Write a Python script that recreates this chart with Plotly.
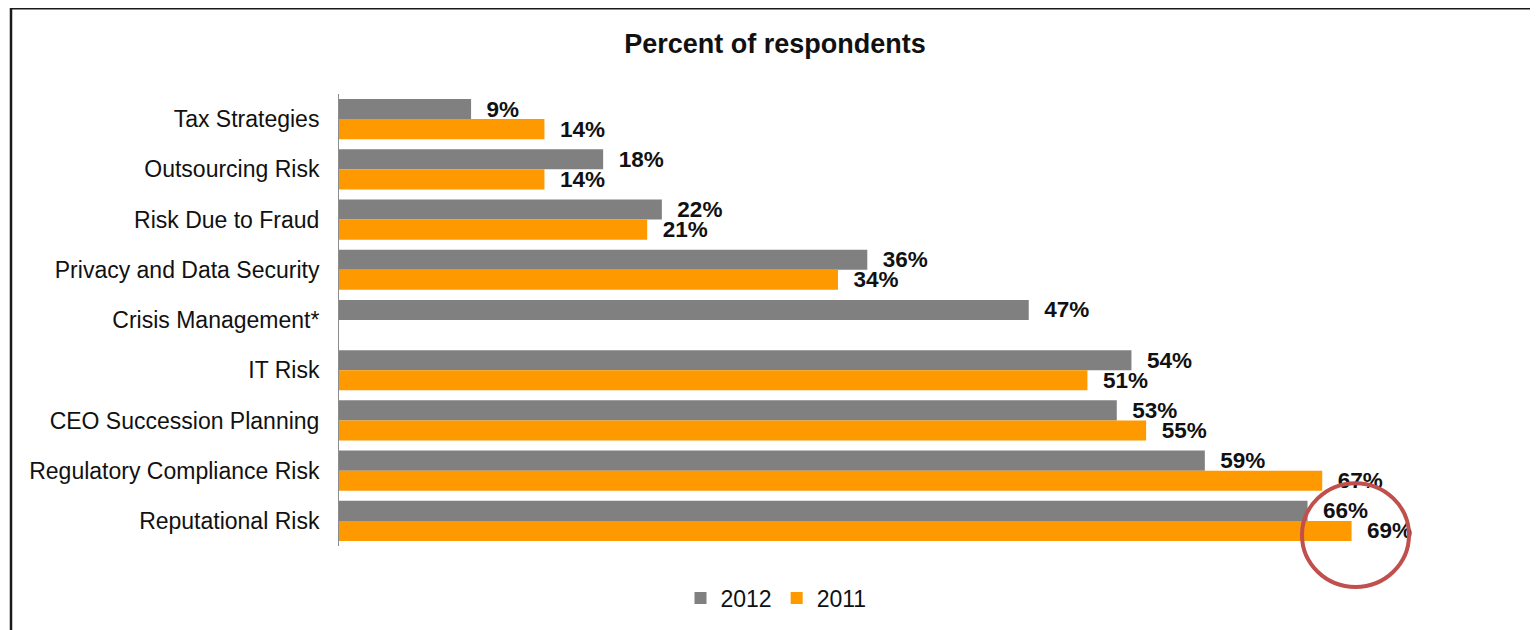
import plotly.graph_objects as go

categories = ["Tax Strategies", "Outsourcing Risk", "Risk Due to Fraud",
              "Privacy and Data Security", "Crisis Management*", "IT Risk",
              "CEO Succession Planning", "Regulatory Compliance Risk", "Reputational Risk"]
values_2012 = [9, 18, 22, 36, 47, 54, 53, 59, 66]
values_2011 = [14, 14, 21, 34, None, 51, 55, 67, 69]
series_names = ["2012", "2011"]
colors = ["#808080", "#FF9900"]

OFF = 8  # page body margin in the browser
W, H = 1538 - OFF, 630 - OFF
L, R, T, B = 339 - OFF, 25, 94 - OFF, 83
PW, PH = W - L - R, H - T - B
XMAX = 80

def px_x(px):
    return (px - OFF - L) / PW

def px_y(py):
    return (H - B - (py - OFF)) / PH

fig = go.Figure()
for name, vals, col in zip(series_names, [values_2012, values_2011], colors):
    fig.add_trace(go.Bar(
        y=categories, x=vals, name=name, orientation="h",
        marker=dict(color=col, line=dict(width=0)),
        text=[None if v is None else f"\u00a0\u00a0{v}%" for v in vals],
        textposition="outside", cliponaxis=False, constraintext="none",
        textfont=dict(family="Liberation Sans, Arial", size=22.5, color="#111111", weight="bold"),
        hoverinfo="skip",
    ))

fig.update_layout(
    width=W, height=H,
    margin=dict(l=L, r=R, t=T, b=B),
    paper_bgcolor="white", plot_bgcolor="white",
    barmode="group", bargap=0.2, bargroupgap=0,
    font=dict(family="Liberation Sans, Arial", color="#111111"),
    title=dict(text="<b>Percent of respondents</b>", x=(775 - OFF) / W, xanchor="center",
               y=1 - (44 - OFF) / H, yanchor="middle",
               font=dict(size=27, family="Liberation Sans, Arial", color="#111111")),
    xaxis=dict(range=[0, XMAX], visible=False, showgrid=False, zeroline=False),
    yaxis=dict(autorange="reversed", showline=True, linecolor="#8c8c8c", linewidth=1,
               showgrid=False, zeroline=False, ticks="", ticklabelstandoff=14,
               tickfont=dict(size=23, family="Liberation Sans, Arial", color="#111111")),
    legend=dict(orientation="h", x=px_x(776), xanchor="center", y=px_y(598), yanchor="middle",
                font=dict(size=23, family="Liberation Sans, Arial", color="#111111"),
                itemwidth=30, traceorder="normal", bgcolor="rgba(0,0,0,0)"),
)

shapes = [
    # light strip above the frame
    dict(type="rect", xref="paper", yref="paper", x0=px_x(600), x1=px_x(1560),
         y0=px_y(7), y1=px_y(-5), fillcolor="#f3f3f3", line=dict(width=0), layer="below"),
    # frame
    dict(type="rect", xref="paper", yref="paper", x0=px_x(11), x1=px_x(1560),
         y0=px_y(660), y1=px_y(8), line=dict(color="#1a1a1a", width=2.5),
         fillcolor="rgba(0,0,0,0)", layer="above"),
    # red highlight circle
    dict(type="circle", xref="paper", yref="paper", x0=px_x(1302), x1=px_x(1409),
         y0=px_y(588), y1=px_y(484), line=dict(color="#C0504D", width=4), layer="above"),
]
fig.update_layout(shapes=shapes)

fig.write_html("out.html")
